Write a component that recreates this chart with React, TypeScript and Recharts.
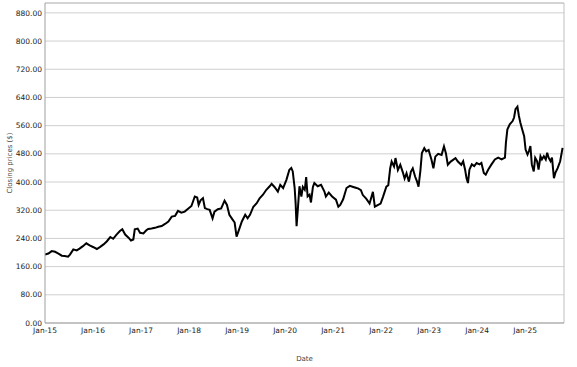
import React from "react";
import {
  LineChart,
  Line,
  XAxis,
  YAxis,
  CartesianGrid,
  ReferenceLine,
} from "recharts";

// dates as fractional years, closing prices
const dates: number[] = [
  2015.0, 2015.07, 2015.14, 2015.21, 2015.28, 2015.35, 2015.41, 2015.48, 2015.52, 2015.59,
  2015.66, 2015.72, 2015.79, 2015.86, 2015.93,
  2016.01, 2016.08, 2016.15, 2016.22, 2016.29, 2016.36, 2016.42, 2016.49, 2016.56, 2016.61,
  2016.67, 2016.74, 2016.79, 2016.84, 2016.87, 2016.93, 2016.98,
  2017.05, 2017.11, 2017.15, 2017.22, 2017.29, 2017.36, 2017.43, 2017.5, 2017.57, 2017.64,
  2017.71, 2017.77, 2017.84, 2017.91, 2017.98,
  2018.05, 2018.12, 2018.17, 2018.2, 2018.24, 2018.29, 2018.33, 2018.38, 2018.43, 2018.49,
  2018.53, 2018.6, 2018.67, 2018.74, 2018.79, 2018.84, 2018.89, 2018.95, 2018.99,
  2019.04, 2019.1, 2019.17, 2019.22, 2019.27, 2019.34, 2019.41, 2019.47, 2019.54, 2019.61,
  2019.68, 2019.72, 2019.78, 2019.85, 2019.9, 2019.96,
  2020.03, 2020.09, 2020.13, 2020.16, 2020.2, 2020.22, 2020.24, 2020.27, 2020.3, 2020.34,
  2020.37, 2020.41, 2020.44, 2020.47, 2020.51, 2020.54, 2020.58, 2020.61, 2020.68, 2020.75,
  2020.82, 2020.85, 2020.91, 2020.98,
  2021.06, 2021.11, 2021.15, 2021.21, 2021.28, 2021.35, 2021.42, 2021.49, 2021.52, 2021.58,
  2021.62, 2021.69, 2021.76, 2021.83, 2021.87, 2021.92, 2021.99,
  2022.04, 2022.11, 2022.15, 2022.19, 2022.22, 2022.27, 2022.3, 2022.35, 2022.4, 2022.45,
  2022.49, 2022.53, 2022.58, 2022.62, 2022.66, 2022.71, 2022.75, 2022.78, 2022.82, 2022.85,
  2022.9, 2022.94, 2022.99,
  2023.05, 2023.09, 2023.13, 2023.19, 2023.26, 2023.31, 2023.35, 2023.39, 2023.45, 2023.5,
  2023.55, 2023.6, 2023.67, 2023.71, 2023.75, 2023.78, 2023.81, 2023.84, 2023.89, 2023.94,
  2023.99,
  2024.05, 2024.09, 2024.14, 2024.18, 2024.23, 2024.3, 2024.37, 2024.44, 2024.51, 2024.58,
  2024.6, 2024.63, 2024.68, 2024.74, 2024.77, 2024.8, 2024.84, 2024.87, 2024.9, 2024.94,
  2024.98,
  2025.01, 2025.05, 2025.08, 2025.11, 2025.14, 2025.18, 2025.21, 2025.25, 2025.28, 2025.32,
  2025.35, 2025.39, 2025.43, 2025.46, 2025.49, 2025.53, 2025.56, 2025.6, 2025.63, 2025.68,
  2025.73, 2025.78,
];

const closes: number[] = [
  194, 197, 204, 202, 197, 191, 190, 188, 194, 209,
  206, 211, 218, 226, 220,
  215, 210, 216, 223, 232, 244, 239, 251, 261, 266,
  251, 242, 234, 237, 266, 268, 256,
  254, 263, 267, 268, 270, 273, 275, 281, 288, 302,
  304, 318, 313, 316, 324,
  332, 359, 356, 335, 348, 354, 326, 323, 321, 297,
  316, 323, 325, 347, 335, 307, 297, 285, 245,
  264, 288, 307, 297, 307, 330, 340, 354, 364, 378,
  388, 395, 386, 373, 392, 383,
  407, 435, 440, 430, 383, 340, 275, 330, 388, 359,
  386, 378, 414, 359, 364, 342, 386, 397, 388, 392,
  373, 359, 370, 359,
  350, 330, 335, 351, 383, 389, 386, 383, 382, 377,
  363, 353, 339, 372, 330, 334, 339,
  358, 387, 391, 439, 458, 444, 468, 434, 449, 429,
  410, 425, 401, 429, 439, 415, 401, 387, 434, 482,
  496, 487, 491,
  463, 439, 472, 480, 477, 501, 482, 449, 458, 463,
  468, 458, 449, 459, 435, 411, 397, 435, 450, 445,
  454,
  450, 454, 426, 421, 435, 450, 464, 469, 464, 469,
  511, 549, 564, 573, 583, 607, 614, 588, 569, 549,
  530,
  492, 478, 488, 502, 450, 430, 469, 459, 435, 473,
  464, 473, 464, 483, 469, 459, 469, 411, 426, 440,
  459, 497,
];

const yTicks = [0, 80, 160, 240, 320, 400, 480, 560, 640, 720, 800, 880];
const xTicks = [2015, 2016, 2017, 2018, 2019, 2020, 2021, 2022, 2023, 2024, 2025];

const data = dates.map((d, i) => ({ date: d, close: closes[i] }));

const X_MAX = 2025.81;
const Y_MAX = 908;
const font = "'DejaVu Sans', Verdana, sans-serif";
const tickStyle = { fontSize: 7.5, fill: "#222", fontFamily: font };

const App: React.FC = () => {
  return (
    <div
      style={{
        position: "absolute",
        left: 0,
        top: 0,
        width: 577,
        height: 367,
        background: "#fff",
      }}
    >
      <LineChart
        width={577}
        height={367}
        data={data}
        margin={{ top: 3, right: 13, left: 0, bottom: 0 }}
      >
        <CartesianGrid vertical={false} stroke="#cfcfcf" />
        <XAxis
          dataKey="date"
          type="number"
          domain={[2015, X_MAX]}
          ticks={xTicks}
          tickFormatter={(v) => `Jan-${String(v).slice(2)}`}
          height={44}
          tickSize={0}
          tickMargin={5}
          stroke="#a0a0a0"
          tick={tickStyle}
          allowDataOverflow
          label={{
            value: "Date",
            position: "insideBottom",
            offset: 6,
            style: { fontSize: 7, fill: "#444", fontFamily: font },
          }}
        />
        <YAxis
          type="number"
          domain={[0, Y_MAX]}
          ticks={yTicks}
          tickFormatter={(v) => Number(v).toFixed(2)}
          width={45}
          tickSize={0}
          tickMargin={3}
          stroke="#a0a0a0"
          tick={tickStyle}
          allowDataOverflow
          label={{
            value: "Closing prices ($)",
            angle: -90,
            position: "insideLeft",
            offset: 10,
            style: {
              textAnchor: "middle",
              fontSize: 7,
              fill: "#444",
              fontFamily: font,
            },
          }}
        />
        <ReferenceLine y={Y_MAX} stroke="#c0c0c0" />
        <ReferenceLine x={X_MAX} stroke="#c0c0c0" />
        <Line
          type="linear"
          dataKey="close"
          stroke="#000"
          strokeWidth={2}
          dot={false}
          isAnimationActive={false}
        />
      </LineChart>
    </div>
  );
};

export default App;
